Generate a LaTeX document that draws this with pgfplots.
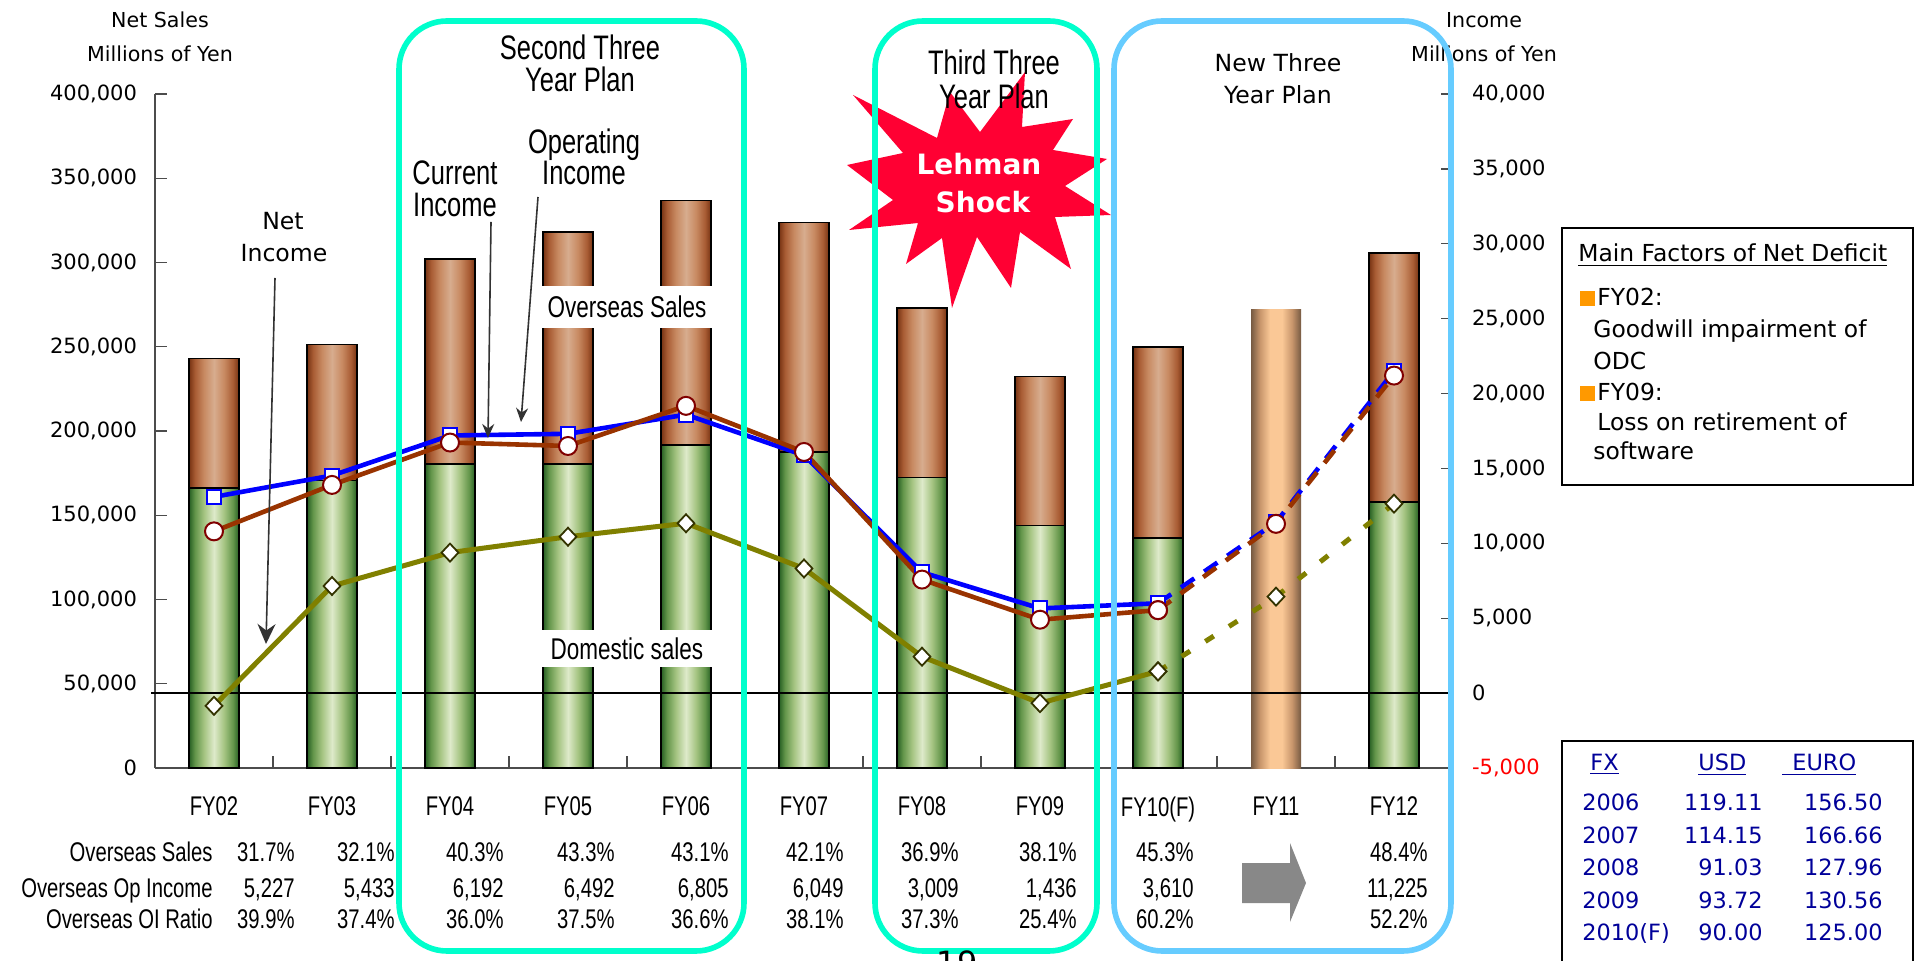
\documentclass[border=0pt]{standalone}
\usepackage{fontspec}
\setmainfont{DejaVu Sans}
\newfontfamily\cond[FakeStretch=0.75]{Liberation Sans}
\usepackage{pgfplots}
\usepackage{pgfplotstable}
\pgfplotsset{compat=1.18}
\usetikzlibrary{arrows.meta}

\definecolor{grnD}{RGB}{38,95,35}
\definecolor{grnM}{RGB}{100,150,75}
\definecolor{grnN}{RGB}{165,196,130}
\definecolor{grnL}{RGB}{222,234,202}
\definecolor{brnD}{RGB}{118,50,18}
\definecolor{brnM}{RGB}{168,92,52}
\definecolor{brnN}{RGB}{200,138,98}
\definecolor{brnL}{RGB}{215,172,142}
\definecolor{orD}{RGB}{118,90,66}
\definecolor{orM}{RGB}{200,150,108}
\definecolor{orL}{RGB}{250,200,150}
\definecolor{aqua}{RGB}{0,255,204}
\definecolor{skyb}{RGB}{102,204,255}
\definecolor{lehman}{RGB}{255,0,51}
\definecolor{oiblue}{RGB}{0,0,255}
\definecolor{cibrown}{RGB}{153,51,0}
\definecolor{cimark}{RGB}{128,0,0}
\definecolor{niolive}{RGB}{128,128,0}
\definecolor{nimark}{RGB}{51,51,0}
\definecolor{fxblue}{RGB}{0,0,153}
\definecolor{bulletor}{RGB}{255,153,0}
\definecolor{arrgray}{RGB}{136,136,136}

% per-bar cylinder-like shadings (middle 25bp..75bp covers the bar)
\pgfdeclarehorizontalshading{grnbar}{100bp}{color(0bp)=(grnD); color(25bp)=(grnD); color(31bp)=(grnM); color(40bp)=(grnN); color(50bp)=(grnL); color(60bp)=(grnN); color(69bp)=(grnM); color(75bp)=(grnD); color(100bp)=(grnD)}
\pgfdeclarehorizontalshading{brnbar}{100bp}{color(0bp)=(brnD); color(25bp)=(brnD); color(31bp)=(brnM); color(40bp)=(brnN); color(50bp)=(brnL); color(60bp)=(brnN); color(69bp)=(brnM); color(75bp)=(brnD); color(100bp)=(brnD)}
\pgfdeclarehorizontalshading{orbar}{100bp}{color(0bp)=(orD); color(25bp)=(orD); color(34bp)=(orM); color(44bp)=(orL); color(56bp)=(orL); color(66bp)=(orM); color(75bp)=(orD); color(100bp)=(orD)}

\pgfplotstableread{
x total domestic
0 243000 166000
1 251300 170600
2 302000 180300
3 318000 180300
4 336800 191700
5 323800 187500
6 273000 172300
7 232300 143800
8 249700 136600
10 305600 157700
}\salestab
\pgfplotstableread{
x total
9 272000
}\planbar
\pgfplotstableread{
x op cur net
0 13100 10800 -850
1 14527 13900 7150
2 17200 16730 9380
3 17312 16500 10440
4 18593 19180 11340
5 15877 16100 8320
6 8067 7580 2430
7 5654 4900 -670
8 5997 5540 1450
}\incsolid
\pgfplotstableread{
x op cur net
8 5997 5540 1450
9 11400 11300 6440
10 21504 21200 12650
}\incplan

\newcommand{\tfont}{\fontsize{10.5}{12}\selectfont}
\newcommand{\cfont}{\cond\fontsize{13.5}{15}\selectfont}
\newcommand{\hfont}{\cond\fontsize{17}{19}\selectfont}
\newcommand{\tv}[3]{\node[anchor=base east, font=\cfont, inner sep=0pt] at (#1,#2) {#3};}

\begin{document}
\begin{tikzpicture}
\useasboundingbox (0pt,0pt) rectangle (958.5pt,-480.5pt);

% ---------- bars (left axis) ----------
\begin{axis}[
  at={(77.5pt,-384pt)}, anchor=south west,
  scale only axis, width=649pt, height=337pt,
  xmin=-0.5, xmax=10.5, ymin=0, ymax=400000,
  axis x line*=bottom, axis y line*=left,
  axis line style={draw=black!70, line width=0.7pt},
  tick align=inside, major tick length=6pt,
  scaled y ticks=false,
  ytick={0,50000,100000,150000,200000,250000,300000,350000,400000},
  yticklabels={0,{50,000},{100,000},{150,000},{200,000},{250,000},{300,000},{350,000},{400,000}},
  yticklabel style={font=\tfont, xshift=-5.5pt},
  ytick style={draw=black!70, line width=0.7pt},
  xtick={0,1,2,3,4,5,6,7,8,9,10},
  xticklabels={FY02,FY03,FY04,FY05,FY06,FY07,FY08,FY09,FY10(F),FY11,FY12},
  xticklabel style={font=\cfont, yshift=-11pt},
  xtick style={draw=none},
  extra x ticks={0.5,1.5,2.5,3.5,4.5,5.5,6.5,7.5,8.5,9.5},
  extra x tick labels={},
  extra x tick style={xtick style={draw=black!70, line width=0.7pt}},
  bar width=25pt,
  clip=false,
]
% one plot per bar, so that each bar gets its own shading
\pgfplotsinvokeforeach{0,1,2,3,4,5,6,7,8,10}{
  \addplot[ybar, bar shift=0pt, draw=black, line width=0.8pt, shade, shading=brnbar,
    restrict x to domain=#1:#1]
    table[x=x, y=total]{\salestab};
  \addplot[ybar, bar shift=0pt, draw=black, line width=0.8pt, shade, shading=grnbar,
    restrict x to domain=#1:#1]
    table[x=x, y=domestic]{\salestab};
}
\addplot[ybar, bar shift=0pt, draw=none, shade, shading=orbar]
  table[x=x, y=total]{\planbar};
\end{axis}

% ---------- income lines (right axis) ----------
\begin{axis}[
  at={(77.5pt,-384pt)}, anchor=south west,
  scale only axis, width=649pt, height=337pt,
  xmin=-0.5, xmax=10.5, ymin=-5000, ymax=40000,
  axis x line=none, axis y line*=right,
  axis line style={draw=black!70, line width=0.7pt},
  tick align=inside, major tick length=6pt,
  scaled y ticks=false,
  ytick={-5000,0,5000,10000,15000,20000,25000,30000,35000,40000},
  yticklabels={{\textcolor{red}{-5,000}},0,{5,000},{10,000},{15,000},{20,000},{25,000},{30,000},{35,000},{40,000}},
  yticklabel style={font=\tfont, xshift=6pt},
  ytick style={draw=black!70, line width=0.7pt},
  clip=false,
]
\draw[black, line width=1.1pt] (axis cs:-0.53,0) -- (axis cs:10.5,0);
\addplot[oiblue, line width=2.3pt, mark=square*, mark size=3.5pt,
  mark options={fill=white, draw=oiblue, line width=1pt, solid}]
  table[x=x, y=op]{\incsolid};
\addplot[oiblue, line width=2.3pt, dash pattern=on 8pt off 6pt, mark=square*, mark size=3.5pt,
  mark options={fill=white, draw=oiblue, line width=1pt, solid}]
  table[x=x, y=op]{\incplan};
\addplot[cibrown, line width=2.3pt, mark=*, mark size=4.5pt,
  mark options={fill=white, draw=cimark, line width=1pt, solid}]
  table[x=x, y=cur]{\incsolid};
\addplot[cibrown, line width=2.3pt, dash pattern=on 8pt off 6pt, mark=*, mark size=4.5pt,
  mark options={fill=white, draw=cimark, line width=1pt, solid}]
  table[x=x, y=cur]{\incplan};
\addplot[niolive, line width=2.5pt, mark=diamond*, mark size=4.5pt,
  mark options={fill=white, draw=nimark, line width=0.9pt, solid, xscale=1.25}]
  table[x=x, y=net]{\incsolid};
\addplot[niolive, line width=2.5pt, dash pattern=on 5pt off 9pt, mark=diamond*, mark size=4.5pt,
  mark options={fill=white, draw=nimark, line width=0.9pt, solid, xscale=1.25}]
  table[x=x, y=net]{\incplan};
\end{axis}

% ---------- annotations (pixel coordinates of the reference) ----------
\begin{scope}[x=0.5pt, y=-0.5pt]
% axis titles
\node[anchor=base, font=\fontsize{10.3}{12}\selectfont, inner sep=0pt] at (160,28) {Net Sales};
\node[anchor=base, font=\fontsize{10.3}{12}\selectfont, inner sep=0pt] at (160,62) {Millions of Yen};
\node[anchor=base, font=\fontsize{10.3}{12}\selectfont, inner sep=0pt] at (1484,28) {Income};
\node[anchor=base, font=\fontsize{10.3}{12}\selectfont, inner sep=0pt] at (1484,62) {Millions of Yen};

% white labels over bars
\node[fill=white, inner sep=0pt, minimum width=88pt, minimum height=21pt,
  font=\cond\fontsize{15}{17}\selectfont] at (627,307) {Overseas Sales};
\node[fill=white, inner sep=0pt, minimum width=88pt, minimum height=18.5pt,
  font=\cond\fontsize{15}{17}\selectfont] at (627,649) {Domestic sales};

% Lehman shock star
\fill[lehman] (1025,72) -- (1022,127) -- (1073,119) -- (1053,150) -- (1107,159) -- (1065,186)
  -- (1111,215) -- (1055,217) -- (1071,269) -- (1020,232) -- (1011,288) -- (977,237)
  -- (952,308) -- (942,238) -- (906,264) -- (918,223) -- (849,230) -- (893,200)
  -- (847,165) -- (903,153) -- (853,95) -- (937,138) -- (950,92) -- (980,132) -- cycle;
\node[anchor=base, text=white, font=\bfseries\fontsize{14}{16}\selectfont, inner sep=0pt] at (979,175) {Lehman};
\node[anchor=base, text=white, font=\bfseries\fontsize{14}{16}\selectfont, inner sep=0pt] at (983,213) {Shock};

% plan boxes
\draw[aqua, line width=2.8pt, rounded corners=24pt] (399,21) rectangle (744,951);
\draw[aqua, line width=2.8pt, rounded corners=24pt] (875,21) rectangle (1097,951);
\draw[skyb, line width=2.8pt, rounded corners=24pt] (1114,21) rectangle (1451,951);
\node[anchor=base, font=\hfont, inner sep=0pt] at (580,60) {Second Three};
\node[anchor=base, font=\hfont, inner sep=0pt] at (580,92) {Year Plan};
\node[anchor=base, font=\hfont, inner sep=0pt] at (994,75) {Third Three};
\node[anchor=base, font=\hfont, inner sep=0pt] at (994,109) {Year Plan};
\node[anchor=base, font=\fontsize{11.8}{14}\selectfont, inner sep=0pt] at (1278,72) {New Three};
\node[anchor=base, font=\fontsize{11.8}{14}\selectfont, inner sep=0pt] at (1278,104) {Year Plan};

% series annotations
\node[anchor=base, font=\fontsize{11.8}{14}\selectfont, inner sep=0pt] at (283,230) {Net};
\node[anchor=base, font=\fontsize{11.8}{14}\selectfont, inner sep=0pt] at (284,262) {Income};
\draw[black!80, line width=0.8pt, -{Stealth[length=10pt, width=9pt]}] (275,278) -- (266,644);
\node[anchor=base, font=\hfont, inner sep=0pt] at (455,185) {Current};
\node[anchor=base, font=\hfont, inner sep=0pt] at (455,217) {Income};
\draw[black!80, line width=0.8pt, -{Stealth[length=7pt, width=6pt]}] (491,222) -- (488,438);
\node[anchor=base, font=\hfont, inner sep=0pt] at (584,154) {Operating};
\node[anchor=base, font=\hfont, inner sep=0pt] at (584,185) {Income};
\draw[black!80, line width=0.8pt, -{Stealth[length=7pt, width=6pt]}] (538,197) -- (521,422);

% table below the chart
\node[anchor=base east, font=\cfont, inner sep=0pt] at (213,862) {Overseas Sales};
\node[anchor=base east, font=\cfont, inner sep=0pt] at (213,897) {Overseas Op Income};
\node[anchor=base east, font=\cfont, inner sep=0pt] at (213,928) {Overseas OI Ratio};
\tv{295}{862}{31.7\%}\tv{295}{897}{5,227}\tv{295}{928}{39.9\%}
\tv{395}{862}{32.1\%}\tv{395}{897}{5,433}\tv{395}{928}{37.4\%}
\tv{504}{862}{40.3\%}\tv{504}{897}{6,192}\tv{504}{928}{36.0\%}
\tv{615}{862}{43.3\%}\tv{615}{897}{6,492}\tv{615}{928}{37.5\%}
\tv{729}{862}{43.1\%}\tv{729}{897}{6,805}\tv{729}{928}{36.6\%}
\tv{844}{862}{42.1\%}\tv{844}{897}{6,049}\tv{844}{928}{38.1\%}
\tv{959}{862}{36.9\%}\tv{959}{897}{3,009}\tv{959}{928}{37.3\%}
\tv{1077}{862}{38.1\%}\tv{1077}{897}{1,436}\tv{1077}{928}{25.4\%}
\tv{1194}{862}{45.3\%}\tv{1194}{897}{3,610}\tv{1194}{928}{60.2\%}
\tv{1428}{862}{48.4\%}\tv{1428}{897}{11,225}\tv{1428}{928}{52.2\%}
\fill[arrgray] (1242,863) -- (1290,863) -- (1290,843) -- (1306,883) -- (1290,922) -- (1290,903) -- (1242,903) -- cycle;

% page number (cut off at the bottom edge)
\node[anchor=north, font=\fontsize{16}{18}\selectfont, inner sep=0pt] at (957,950) {19};

% main factors box
\draw[line width=1.3pt] (1562,228) rectangle (1913,485);
\begin{scope}[every node/.style={anchor=base west, inner sep=0pt, font=\fontsize{11.7}{14}\selectfont}]
\node at (1578,262) {\underline{Main Factors of Net Deficit}};
\fill[bulletor] (1580,291) rectangle (1595,306);
\node at (1597,306) {FY02:};
\node at (1593,338) {Goodwill impairment of};
\node at (1593,370) {ODC};
\fill[bulletor] (1580,386) rectangle (1595,401);
\node at (1597,401) {FY09:};
\node at (1597,431) {Loss on retirement of};
\node at (1593,460) {software};
\end{scope}

% FX box
\draw[line width=1.3pt] (1562,975) -- (1562,741) -- (1913,741) -- (1913,975);
\begin{scope}[every node/.style={inner sep=0pt, text=fxblue, font=\fontsize{11.2}{13}\selectfont}]
\node[anchor=base west] at (1590,771) {\underline{FX}};
\node[anchor=base west] at (1698,771) {\underline{USD}};
\node[anchor=base west] at (1782,771) {\underline{\hspace{5pt}EURO}};
\node[anchor=base west] at (1582,811) {2006};
\node[anchor=base west] at (1582,843) {2007};
\node[anchor=base west] at (1582,875) {2008};
\node[anchor=base west] at (1582,908) {2009};
\node[anchor=base west] at (1582,940) {2010(F)};
\node[anchor=base east] at (1763,811) {119.11};
\node[anchor=base east] at (1763,843) {114.15};
\node[anchor=base east] at (1763,875) {91.03};
\node[anchor=base east] at (1763,908) {93.72};
\node[anchor=base east] at (1763,940) {90.00};
\node[anchor=base east] at (1883,811) {156.50};
\node[anchor=base east] at (1883,843) {166.66};
\node[anchor=base east] at (1883,875) {127.96};
\node[anchor=base east] at (1883,908) {130.56};
\node[anchor=base east] at (1883,940) {125.00};
\end{scope}
\end{scope}
\end{tikzpicture}
\end{document}
